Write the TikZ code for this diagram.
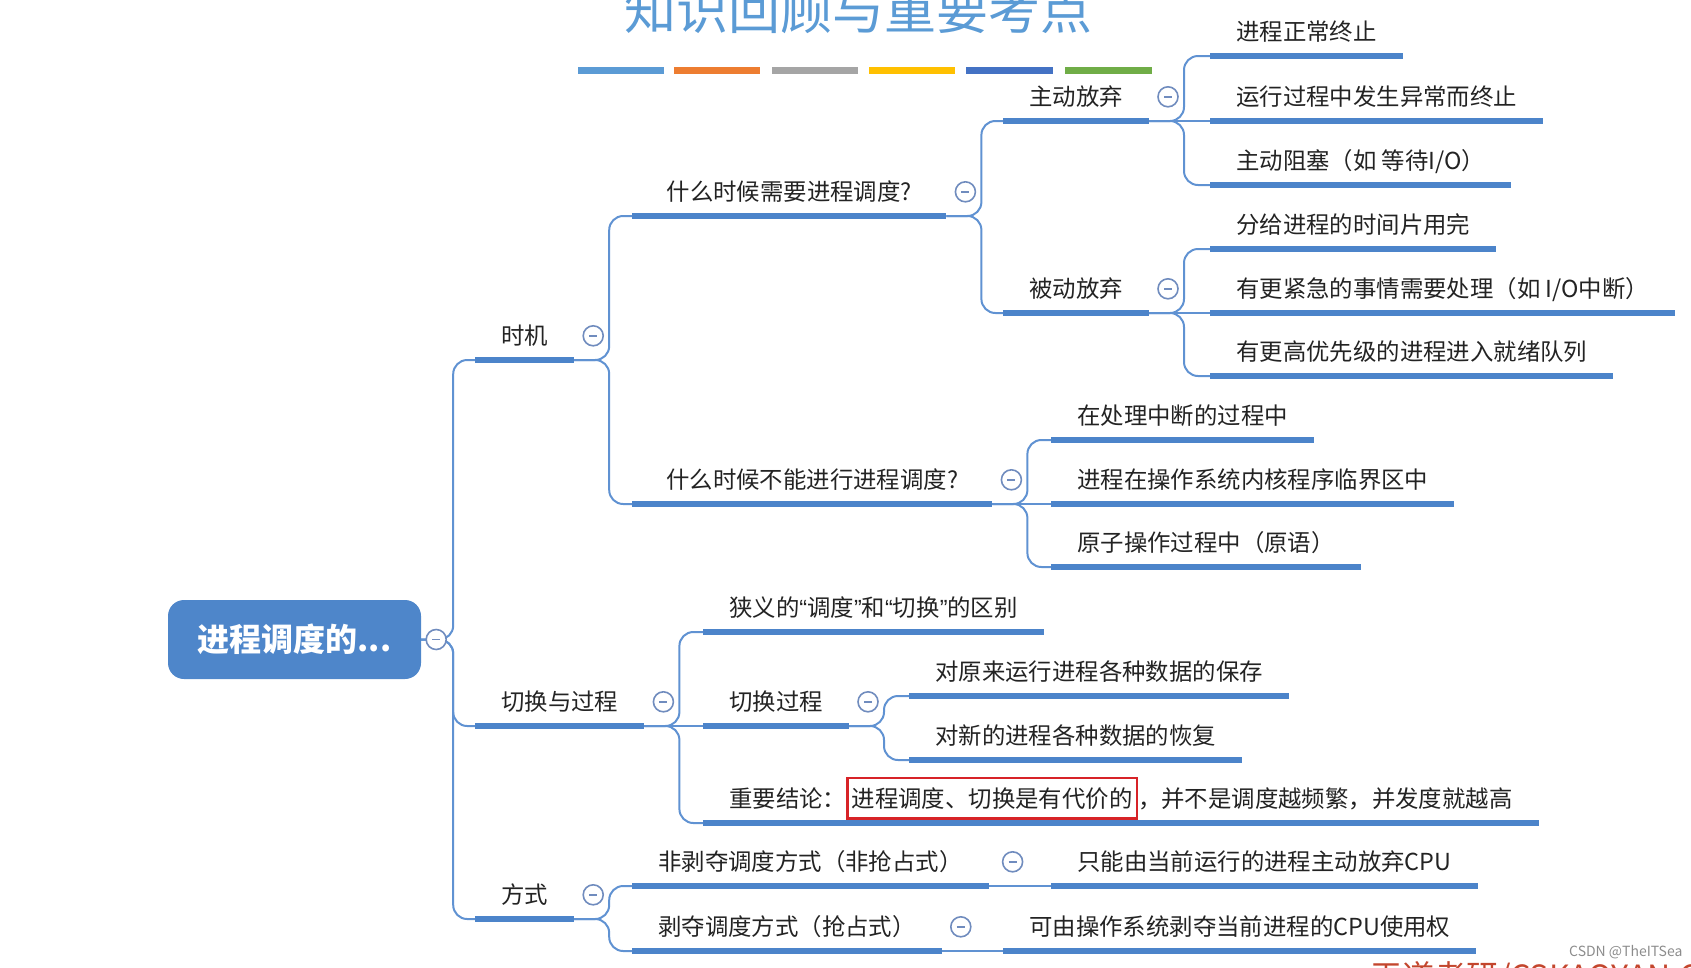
\documentclass[tikz,border=0pt]{standalone}
\usepackage{fontspec}
\setmainfont{Noto Sans CJK SC}
\newfontfamily\quotefont{Liberation Sans}
\definecolor{lineblue}{RGB}{96,146,210}
\definecolor{ulblue}{RGB}{76,132,202}
\definecolor{rootblue}{RGB}{78,134,202}
\definecolor{titleblue}{RGB}{91,155,213}
\definecolor{foldblue}{RGB}{112,140,190}
\definecolor{boxred}{RGB}{215,35,40}
\definecolor{textgray}{RGB}{35,35,35}
\newcommand{\redmark}[1]{{\setlength{\fboxsep}{3pt}\setlength{\fboxrule}{2.5pt}\fcolorbox{boxred}{white}{\rule[-7pt]{0pt}{32pt}#1}}}
\newcommand{\narrowq}[1]{{\quotefont “}#1{\quotefont ”}}
\begin{document}
\begin{tikzpicture}[x=1pt, y=-1pt,
  uline/.style={draw=ulblue, line width=6pt},
  topic/.style={anchor=south west, inner xsep=26pt, inner ysep=0pt, minimum height=48pt,
    text height=16.8pt, text depth=0pt, text=textgray, font=\fontsize{23.4}{28}\selectfont,
    append after command={(\tikzlastnode.south west) edge[uline] (\tikzlastnode.south east)}},
  link/.style={draw=lineblue, line width=2pt, rounded corners=14pt},
  fold/.style={circle, draw=foldblue, line width=1.6pt, fill=white, minimum size=20pt, inner sep=0pt,
    path picture={\draw[foldblue, line width=1.4pt] ([xshift=-4pt]path picture bounding box.center) -- ([xshift=4pt]path picture bounding box.center);}},
  rootbox/.style={rounded corners=16pt, fill=rootblue, text=white, minimum width=253pt, minimum height=79pt,
    font=\bfseries\fontsize{32}{38}\selectfont}]
\useasboundingbox (0,0) rectangle (1691,967);
\clip (0,0) rectangle (1691,967);

\node[text=titleblue, font=\fontsize{52}{60}\selectfont, anchor=base] (title) at (858,29) {知识回顾与重要考点};
\path[draw, line width=7pt, color={rgb,255:red,91;green,155;blue,213}] (578,70) -- (664,70);
\path[draw, line width=7pt, color={rgb,255:red,237;green,125;blue,49}] (674,70) -- (760,70);
\path[draw, line width=7pt, color={rgb,255:red,165;green,165;blue,165}] (772,70) -- (858,70);
\path[draw, line width=7pt, color={rgb,255:red,255;green,192;blue,0}] (869,70) -- (955,70);
\path[draw, line width=7pt, color={rgb,255:red,68;green,114;blue,196}] (966,70) -- (1053,70);
\path[draw, line width=7pt, color={rgb,255:red,112;green,173;blue,71}] (1065,70) -- (1152,70);

\node[rootbox] (0) at (294.5,639.5) {进程调度的...};

\node[topic] (1) at (475,360) {时机};
\node[topic] (2) at (475,726) {切换与过程};
\node[topic] (3) at (475,919) {方式};

\node[topic, minimum width=314pt] (11) at (632,216) {什么时候需要进程调度?};
\node[topic, minimum width=360pt] (12) at (632,504) {什么时候不能进行进程调度?};
\node[topic] (111) at (1003,121) {主动放弃};
\node[topic] (112) at (1003,313) {被动放弃};
\node[topic] (1111) at (1210,56) {进程正常终止};
\node[topic] (1112) at (1210,121) {运行过程中发生异常而终止};
\node[topic] (1113) at (1210,185) {主动阻塞（如 等待I/O）};
\node[topic] (1121) at (1210,249) {分给进程的时间片用完};
\node[topic] (1122) at (1210,313) {有更紧急的事情需要处理（如 I/O中断）};
\node[topic] (1123) at (1210,376) {有更高优先级的进程进入就绪队列};
\node[topic] (121) at (1051,440) {在处理中断的过程中};
\node[topic] (122) at (1051,504) {进程在操作系统内核程序临界区中};
\node[topic] (123) at (1051,567) {原子操作过程中（原语）};

\node[topic] (21) at (703,632) {狭义的\narrowq{调度}和\narrowq{切换}的区别};
\node[topic] (22) at (703,726) {切换过程};
\node[topic] (23) at (703,823) {重要结论：\redmark{进程调度、切换是有代价的}，并不是调度越频繁，并发度就越高};
\node[topic] (221) at (909,696) {对原来运行进程各种数据的保存};
\node[topic] (222) at (909,760) {对新的进程各种数据的恢复};

\node[topic] (31) at (632,886) {非剥夺调度方式（非抢占式）};
\node[topic] (32) at (632,951) {剥夺调度方式（抢占式）};
\node[topic] (311) at (1051,886) {只能由当前运行的进程主动放弃CPU};
\node[topic] (321) at (1003,951) {可由操作系统剥夺当前进程的CPU使用权};

\path[link] (0.east) -- ++(32,0) |- (1.south west);
\path[link] (0.east) -- ++(32,0) |- (2.south west);
\path[link] (0.east) -- ++(32,0) |- (3.south west);
\path[link] (1.south east) -- ++(35,0) |- (11.south west);
\path[link] (1.south east) -- ++(35,0) |- (12.south west);
\path[link] (11.south east) -- ++(35,0) |- (111.south west);
\path[link] (11.south east) -- ++(35,0) |- (112.south west);
\path[link] (111.south east) -- ++(35,0) |- (1111.south west);
\path[link] (111.south east) -- (1112.south west);
\path[link] (111.south east) -- ++(35,0) |- (1113.south west);
\path[link] (112.south east) -- ++(35,0) |- (1121.south west);
\path[link] (112.south east) -- (1122.south west);
\path[link] (112.south east) -- ++(35,0) |- (1123.south west);
\path[link] (12.south east) -- ++(35,0) |- (121.south west);
\path[link] (12.south east) -- (122.south west);
\path[link] (12.south east) -- ++(35,0) |- (123.south west);
\path[link] (2.south east) -- ++(35,0) |- (21.south west);
\path[link] (2.south east) -- (22.south west);
\path[link] (2.south east) -- ++(35,0) |- (23.south west);
\path[link] (22.south east) -- ++(35,0) |- (221.south west);
\path[link] (22.south east) -- ++(35,0) |- (222.south west);
\path[link] (3.south east) -- ++(35,0) |- (31.south west);
\path[link] (3.south east) -- ++(35,0) |- (32.south west);
\path[link] (31.south east) -- (311.south west);
\path[link] (32.south east) -- (321.south west);

\node[fold] (f0) at ([xshift=15pt]0.east) {};
\node[fold] (f1) at ([xshift=19pt]1.east) {};
\node[fold] (f2) at ([xshift=19pt]2.east) {};
\node[fold] (f3) at ([xshift=19pt]3.east) {};
\node[fold] (f11) at ([xshift=19pt]11.east) {};
\node[fold] (f12) at ([xshift=19pt]12.east) {};
\node[fold] (f111) at ([xshift=19pt]111.east) {};
\node[fold] (f112) at ([xshift=19pt]112.east) {};
\node[fold] (f22) at ([xshift=19pt]22.east) {};
\node[fold] (f31) at ([xshift=24pt]31.east) {};
\node[fold] (f32) at ([xshift=19pt]32.east) {};

\node[text={rgb,255:red,140;green,140;blue,140}, font=\fontsize{14}{16}\selectfont, anchor=east] (csdn) at (1686,952) {CSDN @TheITSea};
\node[text={rgb,255:red,195;green,70;blue,45}, font=\fontsize{32}{38}\selectfont, anchor=north west, inner sep=0pt] (wd) at (1370,961) {王道考研/CSKAOYAN.COM};
\end{tikzpicture}
\end{document}
